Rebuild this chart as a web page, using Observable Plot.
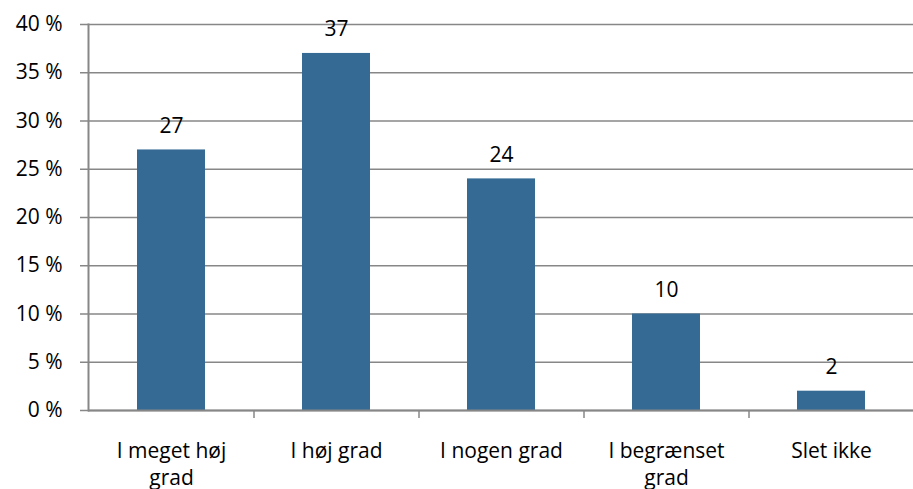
<!DOCTYPE html>
<html><head><meta charset="utf-8">
<script src="https://cdn.jsdelivr.net/npm/d3@7"></script>
<script src="https://cdn.jsdelivr.net/npm/@observablehq/plot@0.6"></script>
<style>html,body{margin:0;padding:0;background:#fff} svg{display:block}</style>
</head><body><div id="chart"></div>
<script>
const categories = ["I meget høj grad","I høj grad","I nogen grad","I begrænset grad","Slet ikke"];
const categoryLabels = ["I meget høj\ngrad","I høj grad","I nogen grad","I begrænset\ngrad","Slet ikke"];
const values = [27,37,24,10,2];
const yTicks = [0,5,10,15,20,25,30,35,40];

const data = categories.map((c,i)=>({category:c, label:categoryLabels[i], value:values[i]}));
const font = "'Open Sans', sans-serif";
const gridColor = "#878787";
const step = (913-88)/categories.length;

const chart = Plot.plot({
  width:913, height:489,
  marginLeft:88, marginRight:0, marginTop:24, marginBottom:79,
  style:{fontFamily:font, fontSize:"21px", color:"#000", background:"#fff", overflow:"visible"},
  x:{domain:categories, paddingInner:0.59, paddingOuter:0.295, axis:null},
  y:{domain:[0,40], axis:null},
  marks:[
    Plot.ruleY(yTicks, {stroke:gridColor, strokeWidth:1.5}),
    Plot.axisY({ticks:yTicks, tickSize:8, tickPadding:18, tickFormat:d=>d+" %", stroke:gridColor, strokeWidth:1.5, fontSize:21, label:null}),
    Plot.barY(data, {x:"category", y:"value", fill:"#346A93"}),
    Plot.frame({anchor:"left", stroke:gridColor, strokeWidth:2}),
    Plot.ruleY([0], {stroke:gridColor, strokeWidth:2}),
    Plot.axisX({ticks:categories.slice(0,4), tickSize:8, tickFormat:()=>"", dx:step/2, stroke:gridColor, strokeWidth:1.5, label:null}),
    Plot.text(data, {x:"category", text:"label", frameAnchor:"bottom", lineAnchor:"top", dy:28, lineHeight:1.3, fontSize:21, fill:"#000"}),
    Plot.text(data, {x:"category", y:"value", text:d=>String(d.value), lineAnchor:"bottom", dy:-17, fontSize:21, fill:"#000"})
  ]
});
document.getElementById("chart").append(chart);
</script>
</body></html>
